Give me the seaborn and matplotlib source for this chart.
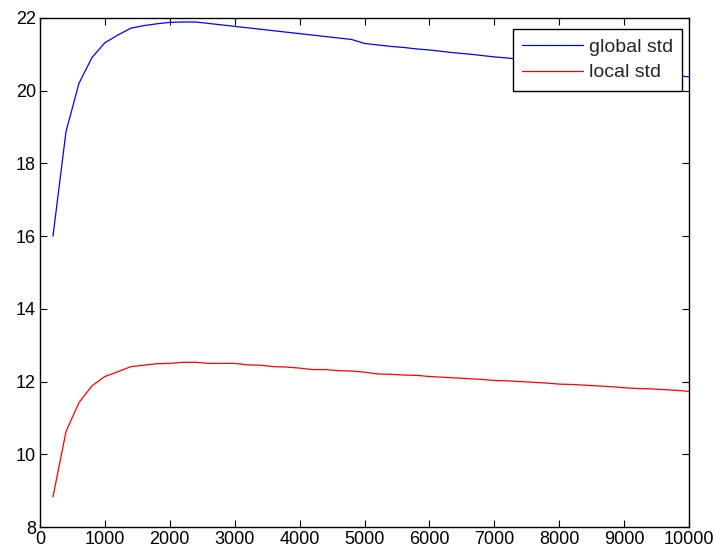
import numpy as np
import pandas as pd
import matplotlib
matplotlib.use("Agg")
import matplotlib.pyplot as plt
import seaborn as sns

# Data
samples = [200, 400, 600, 800, 1000, 1200, 1400, 1600, 1800, 2000,
           2200, 2400, 2600, 2800, 3000, 3200, 3400, 3600, 3800, 4000,
           4200, 4400, 4600, 4800, 5000, 5200, 5400, 5600, 5800, 6000,
           6200, 6400, 6600, 6800, 7000, 7200, 7400, 7600, 7800, 8000,
           8200, 8400, 8600, 8800, 9000, 9200, 9400, 9600, 9800, 10000]

global_std = [16.00, 18.87, 20.20, 20.91, 21.32, 21.53, 21.72, 21.79, 21.84, 21.88,
              21.89, 21.89, 21.85, 21.81, 21.77, 21.73, 21.69, 21.65, 21.61, 21.57,
              21.53, 21.49, 21.45, 21.41, 21.30, 21.26, 21.22, 21.19, 21.15, 21.12,
              21.08, 21.04, 21.01, 20.97, 20.93, 20.90, 20.86, 20.82, 20.79, 20.75,
              20.71, 20.68, 20.64, 20.60, 20.57, 20.53, 20.49, 20.46, 20.42, 20.38]

local_std = [8.83, 10.62, 11.42, 11.88, 12.14, 12.27, 12.41, 12.45, 12.49, 12.50,
             12.53, 12.53, 12.50, 12.50, 12.50, 12.46, 12.45, 12.41, 12.40, 12.37,
             12.33, 12.33, 12.30, 12.29, 12.26, 12.21, 12.20, 12.18, 12.17, 12.14,
             12.12, 12.10, 12.08, 12.06, 12.03, 12.02, 12.00, 11.98, 11.96, 11.93,
             11.92, 11.90, 11.88, 11.86, 11.83, 11.81, 11.80, 11.78, 11.76, 11.73]

x_ticks = [0, 1000, 2000, 3000, 4000, 5000, 6000, 7000, 8000, 9000, 10000]
y_ticks = [8, 10, 12, 14, 16, 18, 20, 22]
series_names = ["global std", "local std"]
series_colors = ["#0000ff", "#ff0000"]

df = pd.DataFrame({
    "n": samples * 2,
    "value": global_std + local_std,
    "series": [series_names[0]] * len(samples) + [series_names[1]] * len(samples),
})

sns.set_theme(style="white")
plt.rcParams["font.family"] = ["Liberation Sans", "DejaVu Sans"]

fig = plt.figure(figsize=(7.14, 5.54), dpi=100)
ax = fig.add_axes([40 / 714, 1 - 527 / 554, (689 - 40) / 714, (527 - 18) / 554])

sns.lineplot(data=df, x="n", y="value", hue="series",
             palette=dict(zip(series_names, series_colors)),
             linewidth=0.9, ax=ax, legend=True)

ax.set_xlim(0, 10000)
ax.set_ylim(8, 22)
ax.set_xticks(x_ticks)
ax.set_yticks(y_ticks)
ax.set_xlabel("")
ax.set_ylabel("")
ax.tick_params(direction="in", length=5, width=0.8, colors="black",
               labelsize=13, top=True, right=True, bottom=True, left=True,
               pad=3)
for s in ax.spines.values():
    s.set_color("black")
    s.set_linewidth(1.0)
    s.set_visible(True)

handles, labels = ax.get_legend_handles_labels()
leg = ax.legend(handles, labels, loc="upper right",
                bbox_to_anchor=((682 - 40) / 649, 1 - (28.7 - 18) / 509),
                borderaxespad=0, fontsize=14, frameon=True, fancybox=False,
                edgecolor="black", handlelength=3.1, handletextpad=0.3,
                labelspacing=0.42, borderpad=0.48)
leg.get_frame().set_linewidth(1.0)
leg.get_frame().set_alpha(1)

fig.savefig("out.png", dpi=100, facecolor="white")
